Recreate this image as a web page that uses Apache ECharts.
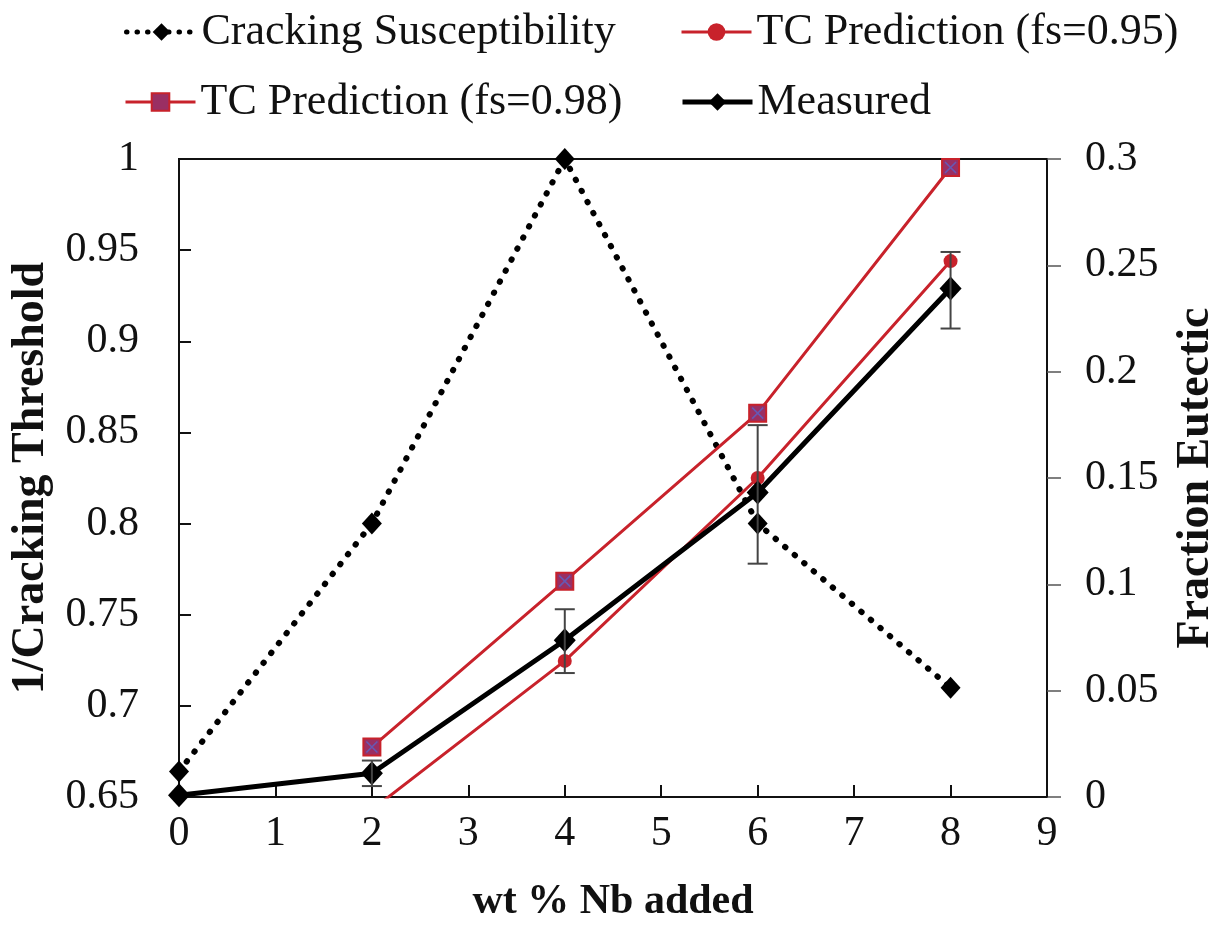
<!DOCTYPE html>
<html>
<head>
<meta charset="utf-8">
<script src="https://cdn.jsdelivr.net/npm/echarts@6/dist/echarts.min.js"></script>
<style>
  html, body { margin: 0; padding: 0; background: #fff; }
  #chart { width: 1227px; height: 937px; }
</style>
</head>
<body>
<div id="chart"></div>
<script>
// wt % Nb added
const nbAdded = [0, 2, 4, 6, 8];

// Left axis: 1/Cracking Threshold
const crackingSusceptibility = [0.664, 0.8, 1.0, 0.8, 0.71];
const measured = [0.651, 0.663, 0.736, 0.817, 0.929];
const measuredLow = [null, 0.656, 0.718, 0.778, 0.907];
const measuredHigh = [null, 0.670, 0.753, 0.854, 0.949];

// Right axis: Fraction Eutectic
const tcNb = [2, 4, 6, 8];
const tcPrediction95 = [-0.006, 0.064, 0.150, 0.252];
const tcPrediction98 = [0.0235, 0.1015, 0.1805, 0.296];

const pairs = (xs, ys) => xs.map((x, i) => [x, ys[i]]);
const errData = nbAdded
  .map((x, i) => [x, measuredLow[i], measuredHigh[i]])
  .filter(d => d[1] !== null);

const FONT = '"Liberation Serif", "DejaVu Serif", serif';
const RED = '#c8222b';

const chart = echarts.init(document.getElementById('chart'), null, { renderer: 'canvas' });

const legendText = { fontFamily: FONT, fontSize: 44, color: '#111' };
function legendAt(name, left, top, lineStyle) {
  return {
    data: [name], left, top, orient: 'horizontal',
    itemWidth: 70, itemHeight: 22, itemGap: 0,
    textStyle: legendText, selectedMode: false, padding: 0,
    lineStyle
  };
}

const tickFont = { fontFamily: FONT, fontSize: 42, color: '#111' };
const titleFont = { fontFamily: FONT, fontSize: 46, fontWeight: 'bold', color: '#111' };

const option = {
  backgroundColor: '#fff',
  animation: false,
  legend: [
    legendAt('Cracking Susceptibility', 124, 10, { width: 5, type: [0.5, 10], cap: 'round' }),
    legendAt('TC Prediction (fs=0.95)', 680, 10, { width: 3 }),
    legendAt('TC Prediction (fs=0.98)', 124, 80, { width: 3 }),
    legendAt('Measured', 680, 80, { width: 5 })
  ],
  grid: {
    left: 178, right: 180, top: 159, bottom: 140,
    show: true, borderColor: '#111', borderWidth: 2, backgroundColor: 'transparent'
  },
  xAxis: {
    type: 'value', min: 0, max: 9, interval: 1,
    name: 'wt % Nb added', nameLocation: 'middle', nameGap: 84,
    nameTextStyle: Object.assign({}, titleFont, { fontSize: 42 }),
    axisLine: { lineStyle: { color: '#111', width: 2 } },
    axisTick: { inside: true, length: 12, lineStyle: { color: '#111', width: 2 } },
    axisLabel: Object.assign({ margin: 16 }, tickFont),
    splitLine: { show: false }
  },
  yAxis: [
    {
      type: 'value', min: 0.65, max: 1, interval: 0.05, position: 'left',
      name: '1/Cracking Threshold', nameLocation: 'middle', nameGap: 125, nameRotate: 90,
      nameTextStyle: titleFont,
      axisLine: { show: true, lineStyle: { color: '#111', width: 2 } },
      axisTick: { show: true, inside: true, length: 12, lineStyle: { color: '#111', width: 2 } },
      axisLabel: Object.assign({ margin: 40 }, tickFont),
      splitLine: { show: false }
    },
    {
      type: 'value', min: 0, max: 0.3, interval: 0.05, position: 'right',
      name: 'Fraction Eutectic', nameLocation: 'middle', nameGap: 126, nameRotate: 90,
      nameTextStyle: titleFont,
      axisLine: { show: true, lineStyle: { color: '#111', width: 2 } },
      axisTick: { show: true, inside: false, length: 14, lineStyle: { color: '#555', width: 1.5 } },
      axisLabel: Object.assign({ margin: 38 }, tickFont),
      splitLine: { show: false }
    }
  ],
  series: [
    {
      name: 'Cracking Susceptibility', type: 'line', yAxisIndex: 0,
      data: pairs(nbAdded, crackingSusceptibility),
      symbol: 'diamond', symbolSize: [20, 22],
      itemStyle: { color: '#000' },
      lineStyle: { color: '#000', width: 6, type: [0.5, 12], cap: 'round' },
      z: 3
    },
    {
      name: 'TC Prediction (fs=0.95)', type: 'line', yAxisIndex: 1,
      data: pairs(tcNb, tcPrediction95),
      symbol: 'circle', symbolSize: 14,
      itemStyle: { color: RED },
      lineStyle: { color: RED, width: 3 },
      clip: true, z: 4
    },
    {
      name: 'TC Prediction (fs=0.98)', type: 'line', yAxisIndex: 1,
      data: pairs(tcNb, tcPrediction98),
      symbol: 'rect', symbolSize: 17,
      itemStyle: { color: '#9a2f63', borderColor: RED, borderWidth: 2 },
      lineStyle: { color: RED, width: 3 },
      z: 4
    },
    {
      name: 'fs098cross', type: 'scatter', yAxisIndex: 1,
      data: pairs(tcNb, tcPrediction98),
      symbol: 'path://M0,0L10,10M10,0L0,10', symbolSize: 11,
      itemStyle: { color: 'none', borderColor: '#5a63c8', borderWidth: 1.6 },
      silent: true, z: 6
    },
    {
      name: 'Measured', type: 'line', yAxisIndex: 0,
      data: pairs(nbAdded, measured),
      symbol: 'diamond', symbolSize: [22, 24],
      itemStyle: { color: '#000' },
      lineStyle: { color: '#000', width: 5 },
      z: 5
    },
    {
      name: 'measuredError', type: 'custom', yAxisIndex: 0,
      data: errData, silent: true, z: 7,
      renderItem: function (params, api) {
        const lo = api.coord([api.value(0), api.value(1)]);
        const hi = api.coord([api.value(0), api.value(2)]);
        const half = 10;
        const style = { stroke: '#444', lineWidth: 2 };
        return {
          type: 'group',
          children: [
            { type: 'line', shape: { x1: lo[0], y1: lo[1], x2: hi[0], y2: hi[1] }, style },
            { type: 'line', shape: { x1: lo[0] - half, y1: lo[1], x2: lo[0] + half, y2: lo[1] }, style },
            { type: 'line', shape: { x1: hi[0] - half, y1: hi[1], x2: hi[0] + half, y2: hi[1] }, style }
          ]
        };
      }
    }
  ]
};

chart.setOption(option);
</script>
</body>
</html>
